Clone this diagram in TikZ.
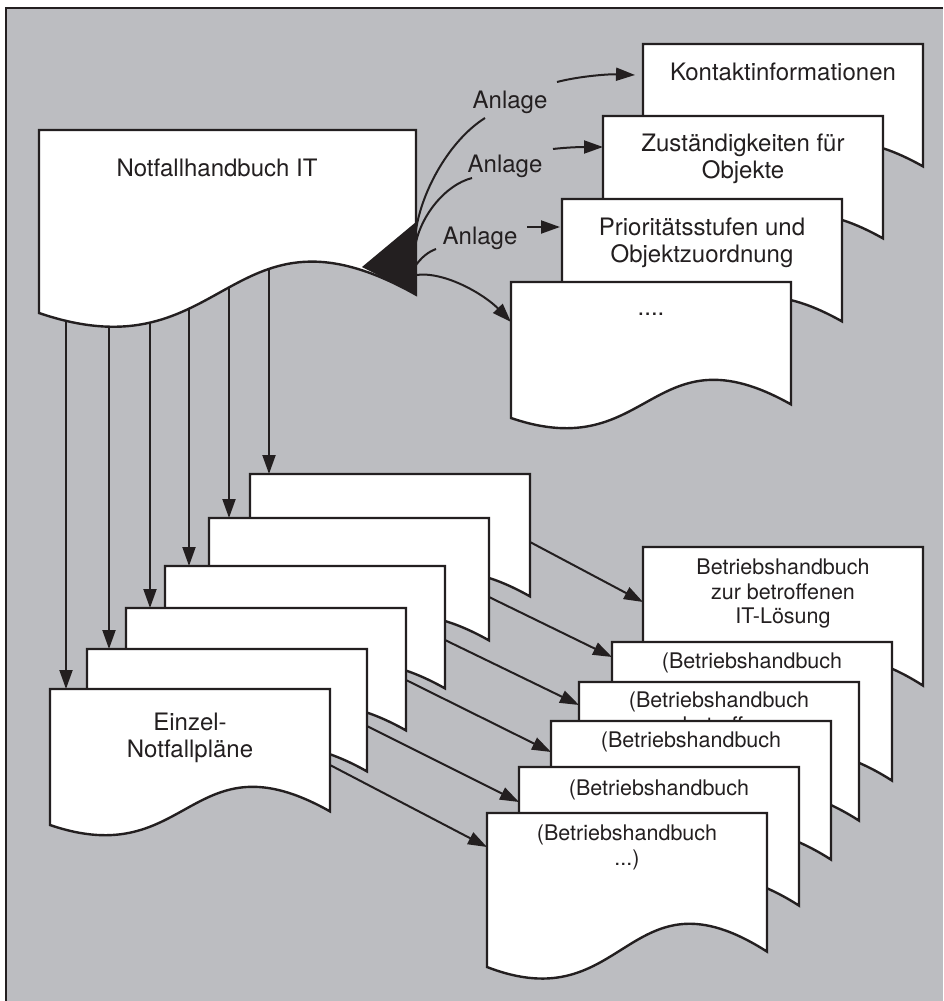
\documentclass[tikz,border=0pt]{standalone}
\usepackage{fontspec}
\setmainfont{TeX Gyre Heros}
\usetikzlibrary{arrows.meta}
\definecolor{panel}{RGB}{188,189,193}
\definecolor{ink}{RGB}{35,31,32}
\pgfdeclarelayer{panelbg}
\pgfdeclarelayer{background}
\pgfsetlayers{panelbg,background,main}

% strut that fixes the top of a text node at 0.8em above the first baseline
\newcommand\capstrut{\rule{0pt}{0.8em}}

% a page with a wavy lower edge: #1 name, #2 left, #3 top, #4 width, #5 height
\newcommand\docpage[5]{%
  \pgfmathsetmacro\dpR{#2+#4}%
  \pgfmathsetmacro\dpM{#2+0.5*#4}%
  \pgfmathsetmacro\dpB{#3+#5}%
  \pgfmathsetmacro\dpRB{#3+0.9*#5}%
  \pgfmathsetmacro\dpCa{#3+0.32*#5}%
  \pgfmathsetmacro\dpCb{#3+1.352*#5}%
  \path[docline] (#2,#3) -- (\dpR,#3) -- (\dpR,\dpRB)
    .. controls (\dpM,\dpCa) and (\dpM,\dpCb) .. (#2,\dpB) -- cycle;
  \node[docbox, minimum width=#4pt, minimum height=#5pt] (#1) at (#2,#3) {};
}

\begin{document}
\begin{tikzpicture}[x=1pt,y=-1pt,
  docline/.style={fill=white, draw=ink, line width=2.4pt, line join=miter},
  docbox/.style={draw=none, rectangle, inner sep=0pt, outer sep=0pt, anchor=north west},
  bigtext/.style={font=\fontsize{24}{27}\selectfont, align=center, inner sep=0pt, anchor=north, text=ink},
  smalltext/.style={font=\fontsize{21.5}{24.5}\selectfont, align=center, inner sep=0pt, anchor=north, text=ink},
  link/.style={draw=ink, line width=2pt},
  arr/.style={draw=ink, line width=2pt, -{Triangle[length=19pt,width=13pt]}},
]
\useasboundingbox (0,0) rectangle (943,1001);
\begin{pgfonlayer}{panelbg}
\fill[white] (0,0) rectangle (943,1001);
\fill[panel] (6,8) rectangle (943,1001);
\draw[ink, line width=2.6pt] (6,1001) -- (6,8) -- (943,8);
\end{pgfonlayer}

% emergency handbook
\docpage{nfh}{39}{130}{377}{183}
\node[bigtext] (nfh-text) at (217,157.4) {\capstrut Notfallhandbuch IT};
\fill[ink] (362,267) -- (416,222) -- (416,294) -- cycle;

% annexes
\docpage{kontakt}{643}{44}{280}{136}
\node[bigtext] (kontakt-text) at (783,61.4) {\capstrut Kontaktinformationen};
\docpage{zust}{603}{116}{280}{136}
\node[bigtext] (zust-text) at (743,132.4) {\capstrut Zuständigkeiten für\\Objekte};
\docpage{prio}{562}{199}{280}{136}
\node[bigtext] (prio-text) at (702,216.4) {\capstrut Prioritätsstufen und\\Objektzuordnung};
\docpage{more}{511}{282}{280}{136}
\node[bigtext] (more-text) at (651,296) {\capstrut ....};

% individual emergency plans
\docpage{plan6}{250}{474}{280}{136}
\docpage{plan5}{209}{518}{280}{136}
\docpage{plan4}{165}{566}{280}{136}
\docpage{plan3}{126}{608}{280}{136}
\docpage{plan2}{87}{649}{280}{136}
\docpage{plan1}{50}{689}{280}{136}
\node[bigtext] (plan1-text) at (190,711.4) {\capstrut Einzel-\\Notfallpläne};

% operating manuals
\docpage{bh1}{643}{547}{280}{154}
\node[smalltext] (bh1-text) at (783,557.5) {\capstrut Betriebshandbuch\\zur betroffenen\\IT-Lösung};
\docpage{bh2}{612}{642}{280}{154}
\node[smalltext] (bh2-text) at (752,651.5) {\capstrut (Betriebshandbuch};
\docpage{bh3}{579}{682}{280}{154}
\node[smalltext] (bh3-text) at (719,690.5) {\capstrut (Betriebshandbuch\\zur betroffenen};
\docpage{bh4}{551}{721}{280}{154}
\node[smalltext] (bh4-text) at (691,730.5) {\capstrut (Betriebshandbuch};
\docpage{bh5}{519}{767}{280}{154}
\node[smalltext] (bh5-text) at (659,778.5) {\capstrut (Betriebshandbuch};
\docpage{bh6}{487}{813}{280}{154}
\node[smalltext] (bh6-text) at (627,823.5) {\capstrut (Betriebshandbuch\\...)};

% annex labels
\node[bigtext, anchor=base] (anlage1) at (510,108.6) {Anlage};
\node[bigtext, anchor=base] (anlage2) at (505,172.6) {Anlage};
\node[bigtext, anchor=base] (anlage3) at (480,244.6) {Anlage};

\coordinate (fan1) at (416,230);
\coordinate (fan2) at (416,242);
\coordinate (fan3) at (416,265);
\coordinate (fan4) at (416,275);
\coordinate (anl1-in) at (485,118);
\coordinate (anl2-in) at (472,178);
\coordinate (anl3-in) at (436,249);
\coordinate (anl1-out) at (557,82);
\coordinate (anl2-out) at (553,149);
\coordinate (anl3-out) at (527,227);

\draw[link] (fan1) .. controls (422,190) and (450,140) .. (anl1-in);
\draw[link] (fan2) .. controls (422,215) and (445,185) .. (anl2-in);
\draw[link] (fan3) .. controls (422,257) and (428,252) .. (anl3-in);
\draw[arr] (fan4) .. controls (445,271) and (485,295) .. ([yshift=-40pt]more.north west);
\draw[arr] (anl1-out) .. controls (580,76) and (610,74) .. ([shift={(-8,31)}]kontakt.north west);
\draw[arr] (anl2-out) .. controls (570,147) and (585,147) .. ([yshift=-31pt]zust.north west);
\draw[arr] (anl3-out) -- ([shift={(-2,28)}]prio.north west);

% plans to operating manuals
\draw[arr] ([yshift=-68pt]plan6.north east) -- ([yshift=-55pt]bh1.north west);
\draw[arr] ([yshift=-79pt]plan5.north east) -- ([yshift=-15pt]bh2.north west);
\draw[arr] ([yshift=-74pt]plan4.north east) -- ([yshift=-23pt]bh3.north west);
\draw[arr] ([yshift=-72pt]plan3.north east) -- ([yshift=-31pt]bh4.north west);
\draw[arr] ([yshift=-77pt]plan2.north east) -- ([yshift=-35pt]bh5.north west);
\draw[arr] ([yshift=-76pt]plan1.north east) -- ([yshift=-34pt]bh6.north west);

% handbook to plans, tucked behind the handbook page
\begin{pgfonlayer}{background}
\foreach \i/\dx in {1/27, 2/70, 3/111, 4/150, 5/190, 6/230} {
  \coordinate (drop\i) at ([xshift=\dx pt]nfh.north west);
  \draw[arr] (drop\i) -- (drop\i |- plan\i.north);
}
\end{pgfonlayer}
\end{tikzpicture}
\end{document}
